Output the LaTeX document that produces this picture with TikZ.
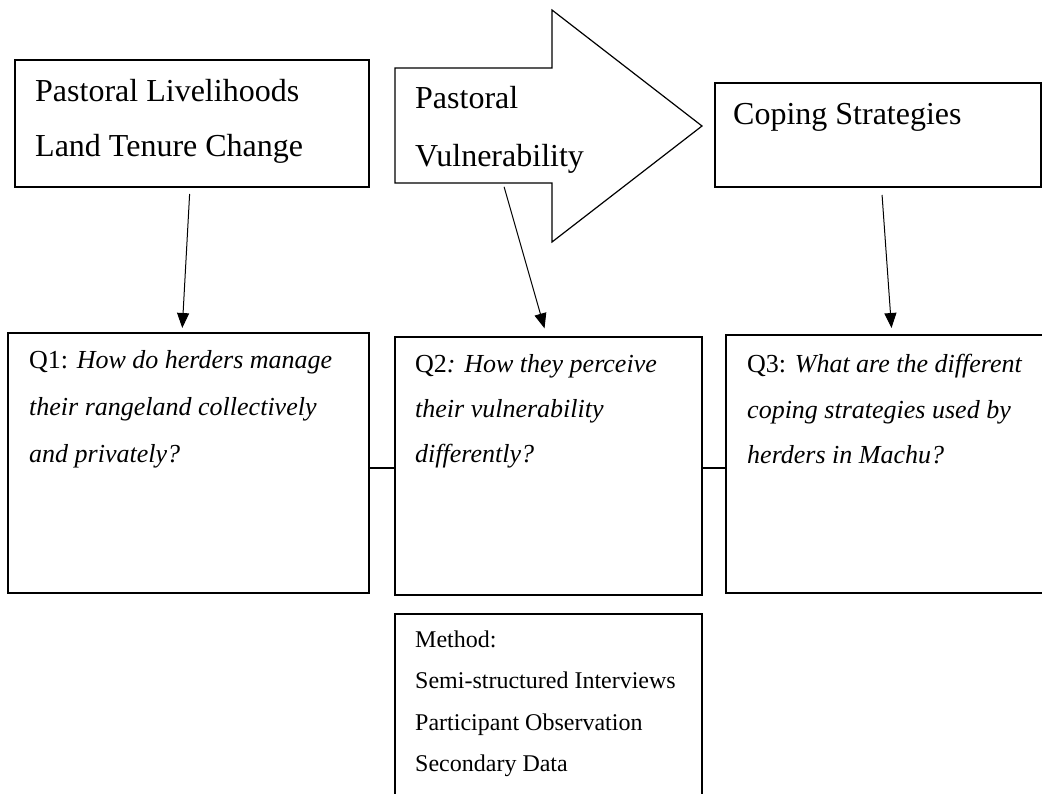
\documentclass[tikz,border=0pt]{standalone}
\usepackage{fontspec}
\setmainfont{Liberation Serif}
\usetikzlibrary{arrows.meta}
\tikzset{
  box/.style={draw, line width=1.2pt, inner sep=0pt, outer sep=0pt},
  conn/.style={line width=1pt, -{Triangle[length=15pt,width=12pt]}},
  big/.style={anchor=base west, inner sep=0pt, font=\fontsize{32}{38}\selectfont},
  qtxt/.style={anchor=base west, inner sep=0pt, font=\fontsize{26}{31}\selectfont},
  mtxt/.style={anchor=base west, inner sep=0pt, font=\fontsize{24}{29}\selectfont}
}
\begin{document}
\begin{tikzpicture}[x=1pt,y=-1pt]
        \path[use as bounding box, clip] (0,0) rectangle (1042,793);
        %% top row
        \node[box, minimum width=354pt, minimum height=127pt] (plt) at (192,123.5) {};
        \node[big] (plt1) at (35,101) {Pastoral Livelihoods};
        \node[big] (plt2) at (35,156) {Land Tenure Change};
        \draw[line width=1.2pt] (395,68) -- (552,68) -- (552,10) -- (702,126)
          -- (552,242) -- (552,183) -- (395,183) -- cycle;
        \coordinate (pvfoot) at (503,183);
        \node[big] (pv1) at (415,108) {Pastoral};
        \node[big] (pv2) at (415,166) {Vulnerability};
        \node[box, minimum width=326pt, minimum height=104pt] (cs) at (878,135) {};
        \node[big] (cs1) at (733,124) {Coping Strategies};
        %% questions
        \node[box, minimum width=361pt, minimum height=260pt] (q1) at (188.5,463) {};
        \node[qtxt] (q1a) at (29,368) {Q1: \textit{How do herders manage}};
        \node[qtxt] (q1b) at (29,415) {\textit{their rangeland collectively}};
        \node[qtxt] (q1c) at (29,462) {\textit{and privately?}};
        \node[box, minimum width=307pt, minimum height=258pt] (q2) at (548.5,466) {};
        \node[qtxt] (q2a) at (415,372) {Q2\textit{: How they perceive}};
        \node[qtxt] (q2b) at (415,417) {\textit{their vulnerability}};
        \node[qtxt] (q2c) at (415,462) {\textit{differently?}};
        \node[box, minimum width=334pt, minimum height=258pt] (q3) at (893,464) {};
        \node[qtxt] (q3a) at (747,372) {Q3: \textit{What are the different}};
        \node[qtxt] (q3b) at (747,418) {\textit{coping strategies used by}};
        \node[qtxt] (q3c) at (747,463) {\textit{herders in Machu?}};
        %% method
        \node[box, minimum width=307pt, minimum height=206pt] (meth) at (548.5,717) {};
        \node[mtxt] (m1) at (415,647) {Method:};
        \node[mtxt] (m2) at (415,688) {Semi-structured Interviews};
        \node[mtxt] (m3) at (415,730) {Participant Observation};
        \node[mtxt] (m4) at (415,771) {Secondary Data};
        %% arrows and links
        \draw[conn, shorten <=7pt, shorten >=5pt] ([xshift=-2pt]plt.south) -- ([xshift=-6.5pt]q1.north);
        \draw[conn, shorten <=4pt, shorten >=9pt] (pvfoot) -- ([xshift=-1.5pt]q2.north);
        \draw[conn, shorten <=8pt, shorten >=7pt] ([xshift=3.5pt]cs.south) -- ([xshift=-1pt]q3.north);
        \draw[line width=1.2pt] ([yshift=-5pt]q1.east) -- ([yshift=-2pt]q2.west);
        \draw[line width=1.2pt] ([yshift=-2pt]q2.east) -- ([yshift=-4pt]q3.west);
      \end{tikzpicture}
\end{document}
